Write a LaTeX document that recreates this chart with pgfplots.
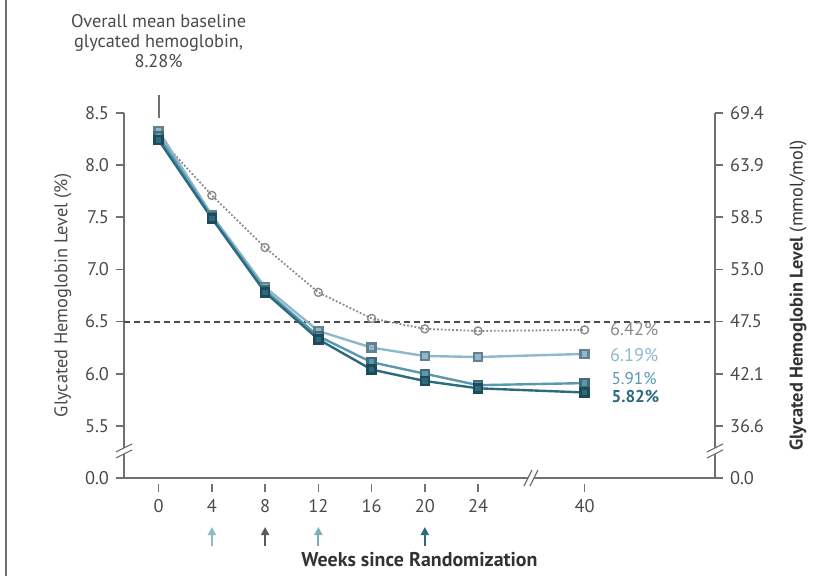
\documentclass[border=0pt]{standalone}
\usepackage{pgfplots}
\pgfplotsset{compat=1.18}
\usepackage{fontspec}
\setmainfont{PT Sans}
\usetikzlibrary{arrows.meta}
\definecolor{cLight}{HTML}{8DB9CB}
\definecolor{cMed}{HTML}{5B98AE}
\definecolor{cDark}{HTML}{2C6A80}
\definecolor{cGray}{HTML}{8A8A8A}
\definecolor{axgray}{HTML}{707070}
\definecolor{txt}{HTML}{4A4A4A}
\begin{document}
\begin{tikzpicture}[font=\fontsize{9.2}{11}\selectfont]
\useasboundingbox (0,0) rectangle (407.5bp,288bp);
\draw[axgray, line width=1bp] (3bp,0) -- (3bp,288bp);
\begin{axis}[
  at={(62bp,49bp)}, anchor=south west,
  scale only axis, width=295.5bp, height=182.5bp,
  xmin=-2.6, xmax=41.8, ymin=5, ymax=8.5,
  axis x line*=bottom, axis y line*=left,
  axis line style={axgray, line width=0.8bp, -},
  xtick={0,4,8,12,16,20,24,32}, xticklabels={0,4,8,12,16,20,24,40},
  ytick={5,5.5,6,6.5,7,7.5,8,8.5},
  yticklabels={0.0,5.5,6.0,6.5,7.0,7.5,8.0,8.5},
  tick align=outside, major tick length=4bp,
  tick style={axgray, line width=0.8bp},
  xtick style={yshift=-3bp},
  ticklabel style={text=txt},
  xticklabel style={yshift=-3bp},
  ylabel={Glycated Hemoglobin Level (\%)}, ylabel style={text=txt, xshift=0bp},
  clip=false,
]
\draw[black!70, line width=1bp, dash pattern=on 3bp off 2bp] (axis cs:-2.6,6.5) -- (axis cs:41.8,6.5);
\addplot[cGray, densely dotted, line width=0.9bp, mark=o, mark size=2bp,
  mark options={solid, fill=white, line width=0.7bp}]
  coordinates {(0,8.27)(4,7.71)(8,7.21)(12,6.78)(16,6.53)(20,6.43)(24,6.41)(32,6.42)};
\addplot[cLight, line width=1.2bp, mark=square*, mark size=2bp,
  mark options={fill=cLight, draw=cLight!70!black}]
  coordinates {(0,8.33)(4,7.52)(8,6.83)(12,6.41)(16,6.25)(20,6.17)(24,6.16)(32,6.19)};
\addplot[cMed, line width=1.2bp, mark=square*, mark size=2bp,
  mark options={fill=cMed, draw=cMed!70!black}]
  coordinates {(0,8.28)(4,7.50)(8,6.80)(12,6.36)(16,6.11)(20,6.00)(24,5.89)(32,5.91)};
\addplot[cDark, line width=1.2bp, mark=square*, mark size=2bp,
  mark options={fill=cDark, draw=cDark!70!black}]
  coordinates {(0,8.24)(4,7.49)(8,6.78)(12,6.33)(16,6.04)(20,5.93)(24,5.86)(32,5.82)};
\node[anchor=west, text=cGray] at (axis cs:33.4,6.43) {6.42\%};
\node[anchor=west, text=cLight] at (axis cs:33.4,6.18) {6.19\%};
\node[anchor=west, text=cMed, inner sep=0pt, font=\fontsize{8.6}{10}\selectfont] at (axis cs:34,5.955) {5.91\%};
\node[anchor=west, text=cDark, inner sep=0pt, font=\fontsize{8.6}{10}\selectfont\bfseries] at (axis cs:34,5.78) {5.82\%};
\draw[axgray, line width=1bp] (axis cs:0,8.45) -- (axis cs:0,8.67);
\node[align=center, text=txt, anchor=south, inner sep=0pt, font=\fontsize{9.2}{10}\selectfont] at (axis cs:0,8.93)
  {Overall mean baseline\\glycated hemoglobin,\\8.28\%};
\draw[-{Triangle[length=4bp,width=4bp]}, cLight, line width=1bp] (axis cs:4,4.35) -- (axis cs:4,4.53);
\draw[-{Triangle[length=4bp,width=4bp]}, black!65, line width=1bp] (axis cs:8,4.35) -- (axis cs:8,4.53);
\draw[-{Triangle[length=4bp,width=4bp]}, cMed!80, line width=1bp] (axis cs:12,4.35) -- (axis cs:12,4.53);
\draw[-{Triangle[length=4bp,width=4bp]}, cDark, line width=1bp] (axis cs:20,4.35) -- (axis cs:20,4.53);
\node[font=\fontsize{10}{12}\selectfont\bfseries, text=black!80] at ([yshift=-41bp]rel axis cs:0.5,0) {Weeks since Randomization};
\coordinate (bl) at (axis cs:-2.6,5.25);
\coordinate (br) at (axis cs:41.8,5.25);
\coordinate (bx) at (axis cs:27.9,5);
\end{axis}
\begin{axis}[
  at={(62bp,49bp)}, anchor=south west,
  scale only axis, width=295.5bp, height=182.5bp,
  xmin=-2.6, xmax=41.8, ymin=5, ymax=8.5,
  axis y line*=right, axis x line=none,
  axis line style={axgray, line width=0.8bp, -},
  ytick={5,5.5,6,6.5,7,7.5,8,8.5},
  yticklabels={0.0,36.6,42.1,47.5,53.0,58.5,63.9,69.4},
  tick align=outside, major tick length=4bp,
  tick style={axgray, line width=0.8bp},
  ticklabel style={text=txt},
  ylabel={\textbf{Glycated Hemoglobin Level} (mmol/mol)}, ylabel style={text=black!80, yshift=-6bp},
  clip=false,
]
\addplot[draw=none] coordinates {(0,5)};
\end{axis}
\foreach \c in {bl,br}{
  \fill[white] ([shift={(-4bp,-3bp)}]\c) -- ([shift={(4bp,1bp)}]\c) -- ([shift={(4bp,4bp)}]\c) -- ([shift={(-4bp,0bp)}]\c) -- cycle;
  \draw[axgray, line width=0.6bp] ([shift={(-4bp,-3bp)}]\c) -- ([shift={(4bp,1bp)}]\c);
  \draw[axgray, line width=0.6bp] ([shift={(-4bp,0bp)}]\c) -- ([shift={(4bp,4bp)}]\c);
}
\fill[white] ([shift={(-3bp,-4bp)}]bx) -- ([shift={(1bp,4bp)}]bx) -- ([shift={(4bp,4bp)}]bx) -- ([shift={(0bp,-4bp)}]bx) -- cycle;
\draw[axgray, line width=0.6bp] ([shift={(-3bp,-4bp)}]bx) -- ([shift={(1bp,4bp)}]bx);
\draw[axgray, line width=0.6bp] ([shift={(0bp,-4bp)}]bx) -- ([shift={(4bp,4bp)}]bx);
\end{tikzpicture}
\end{document}
